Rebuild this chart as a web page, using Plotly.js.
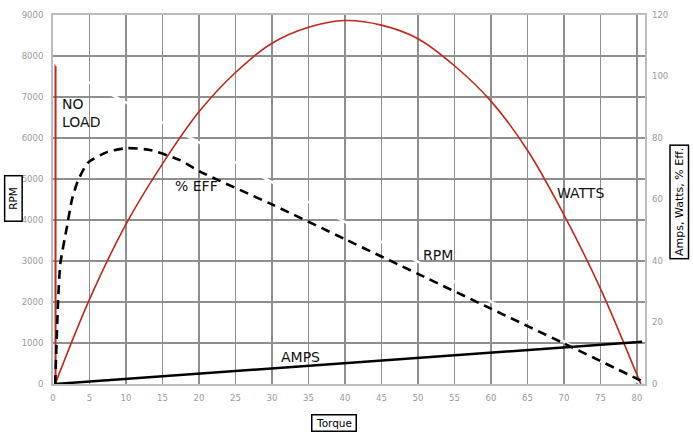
<!DOCTYPE html>
<html>
<head>
<meta charset="utf-8">
<script src="https://cdn.plot.ly/plotly-3.0.1.min.js"></script>
<style>html,body{margin:0;padding:0;background:#fff;}#chart{width:693px;height:433px;}</style>
</head>
<body>
<div id="chart"></div>
<script>
// Watts (right axis)
const wattsTorque = [0.3, 5, 10, 15, 20, 25, 30, 35, 40, 45, 50, 55, 60, 65, 70, 75, 80, 80.7];
const wattsValues = [0, 27.5, 52, 71.6, 88.5, 101.3, 110.8, 116, 118.2, 116.7, 112.3, 103.5, 92, 76, 55, 31, 3, -1];
// Efficiency (right axis, dashed)
const effTorque = [0.3, 0.55, 0.7, 1.0, 1.9, 2.6, 3.4, 4.8, 7.4, 10.1, 13.3, 17.4, 20.2, 30, 40, 50, 60, 70, 80.8];
const effValues = [0, 17.6, 27, 39, 51, 60, 66, 72, 75.4, 76.7, 76.1, 72.8, 69, 58.4, 47.1, 35.8, 24.5, 13.2, 0.8];
// Amps (right axis)
const ampsTorque = [0.3, 80.7];
const ampsValues = [0, 13.7];
// RPM (left axis, drawn in white)
const rpmTorque = [0.35, 80.7];
const rpmValues = [7800, 0];
// No-load line (left axis)
const noLoadTorque = [0.35, 0.35];
const noLoadRpm = [-100, 7800];
// ticks
const xTicks = [0, 5, 10, 15, 20, 25, 30, 35, 40, 45, 50, 55, 60, 65, 70, 75, 80];
const yTicks = [0, 1000, 2000, 3000, 4000, 5000, 6000, 7000, 8000, 9000];
const y2Ticks = [0, 20, 40, 60, 80, 100, 120];

const red = '#c0281c';
const traces = [
  {x: wattsTorque, y: wattsValues, yaxis: 'y2', mode: 'lines', line: {color: red, width: 1.6, shape: 'spline', smoothing: 1}, hoverinfo: 'skip', cliponaxis: false},
  {x: noLoadTorque, y: noLoadRpm, yaxis: 'y', mode: 'lines', line: {color: red, width: 2}, hoverinfo: 'skip', cliponaxis: false},
  {x: effTorque, y: effValues, yaxis: 'y2', mode: 'lines', line: {color: '#000', width: 2.6, dash: '9px,6px', shape: 'spline', smoothing: 0.6}, hoverinfo: 'skip'},
  {x: ampsTorque, y: ampsValues, yaxis: 'y2', mode: 'lines', line: {color: '#000', width: 2.5}, hoverinfo: 'skip'},
  {x: rpmTorque, y: rpmValues, yaxis: 'y', mode: 'lines', line: {color: '#fff', width: 2.5}, hoverinfo: 'skip'}
];

const tickFont = {family: 'DejaVu Sans', size: 8.5, color: '#9a9a9a'};
const labFont = {family: 'DejaVu Sans', size: 14, color: '#111'};
const boxFont = {family: 'DejaVu Sans', size: 10.5, color: '#000'};
const boxFontR = {family: 'DejaVu Sans', size: 11, color: '#000'};

const layout = {
  width: 693, height: 433,
  margin: {l: 53, r: 48, t: 15, b: 49},
  paper_bgcolor: '#fff', plot_bgcolor: '#fff',
  showlegend: false,
  xaxis: {
    range: [0, 81.1], tickvals: xTicks, ticktext: xTicks.map(String),
    showgrid: true, gridcolor: '#8f8f8f', gridwidth: 1.7,
    zeroline: false, showline: true, linecolor: '#bdbdbd', linewidth: 2, mirror: true,
    ticks: '', tickfont: tickFont, ticklabelstandoff: 5
  },
  yaxis: {
    range: [0, 9000], tickvals: yTicks, ticktext: yTicks.map(String),
    showgrid: true, gridcolor: '#8f8f8f', gridwidth: 1.7,
    zeroline: false, showline: true, linecolor: '#bdbdbd', linewidth: 2, mirror: true,
    ticks: '', tickfont: tickFont, ticklabelstandoff: 6
  },
  yaxis2: {
    range: [0, 120], overlaying: 'y', side: 'right', tickvals: y2Ticks, ticktext: y2Ticks.map(String),
    showgrid: false, zeroline: false, showline: false,
    ticks: '', tickfont: tickFont, ticklabelstandoff: 6
  },
  annotations: [
    {x: 0.96, y: 6598, xref: 'x', yref: 'y', text: 'NO<br>LOAD', showarrow: false, xanchor: 'left', yanchor: 'middle', align: 'left', font: labFont},
    {x: 19.6, y: 4829, xref: 'x', yref: 'y', text: '% EFF', showarrow: false, font: labFont},
    {x: 52.8, y: 3146, xref: 'x', yref: 'y', text: 'RPM', showarrow: false, font: labFont},
    {x: 72.2, y: 4659, xref: 'x', yref: 'y', text: 'WATTS', showarrow: false, font: labFont},
    {x: 33.95, y: 659, xref: 'x', yref: 'y', text: 'AMPS', showarrow: false, font: labFont},
    {x: -0.0677, y: 0.504, xref: 'paper', yref: 'paper', xanchor: 'center', yanchor: 'middle', text: 'RPM', textangle: -90, showarrow: false, font: boxFont, bordercolor: '#000', borderwidth: 1.5, borderpad: 1, width: 42, height: 14, bgcolor: '#fff'},
    {x: 0.4755, y: -0.1057, xref: 'paper', yref: 'paper', xanchor: 'center', yanchor: 'middle', text: 'Torque', showarrow: false, font: boxFont, bordercolor: '#000', borderwidth: 1.5, borderpad: 1, width: 41, height: 13, bgcolor: '#fff'},
    {x: 1.058, y: 0.493, xref: 'paper', yref: 'paper', xanchor: 'center', yanchor: 'middle', text: 'Amps, Watts, % Eff.', textangle: -90, showarrow: false, font: boxFontR, bordercolor: '#000', borderwidth: 1.5, borderpad: 2, bgcolor: '#fff'}
  ]
};

Plotly.newPlot('chart', traces, layout, {staticPlot: true, displayModeBar: false});
</script>
</body>
</html>
